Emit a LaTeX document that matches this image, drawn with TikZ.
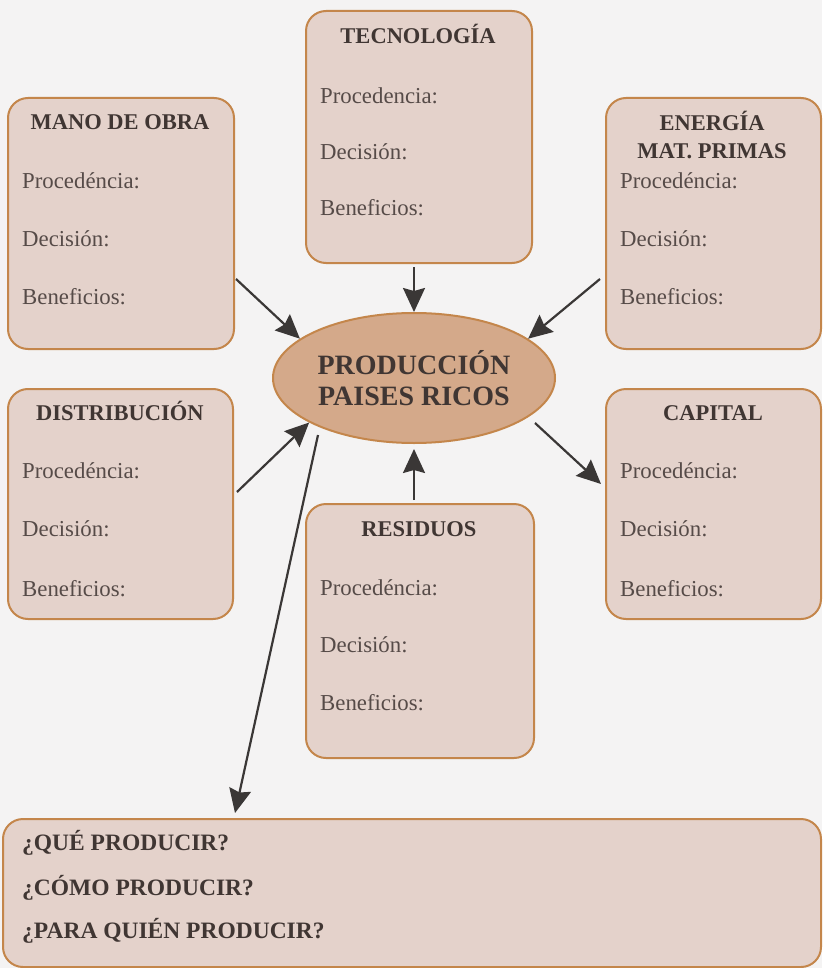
\documentclass[tikz,border=0pt]{standalone}
\usepackage{fontspec}
\setmainfont{Liberation Serif}
\usetikzlibrary{arrows.meta,shapes.geometric}
\definecolor{boxfill}{HTML}{E4D2CB}
\definecolor{boxline}{HTML}{C4864B}
\definecolor{ellfill}{HTML}{D4A98A}
\definecolor{headc}{HTML}{403633}
\definecolor{labc}{HTML}{564B48}
\definecolor{arrowc}{HTML}{3A3736}
\definecolor{pagec}{HTML}{F4F3F3}
\begin{document}
\begin{tikzpicture}[x=1pt,y=-1pt,
  box/.style={draw=boxline, fill=boxfill, line width=2pt, rounded corners=20pt, anchor=north west, inner sep=0pt},
  head/.style={font=\fontsize{22.5}{28}\selectfont\bfseries, text=headc, anchor=base, inner sep=0pt},
  qhead/.style={font=\fontsize{23.5}{28}\selectfont\bfseries, text=headc, anchor=base west, inner sep=0pt},
  lab/.style={font=\fontsize{22.8}{26}\selectfont, text=labc, anchor=base west, inner sep=0pt},
  arr/.style={draw=arrowc, line width=2.2pt, -{Stealth[length=24pt,width=22pt,inset=3pt]}}]
\fill[pagec] (0,0) rectangle (822,968);
\useasboundingbox (0,0) rectangle (822,968);

% boxes
\node[box, minimum width=226pt, minimum height=251pt] (mano) at (7,97) {};
\node[box, minimum width=226pt, minimum height=252pt] (tec) at (305,10) {};
\node[box, minimum width=215pt, minimum height=251pt] (ener) at (605,97) {};
\node[box, minimum width=225pt, minimum height=230pt] (dist) at (7,388) {};
\node[box, minimum width=215pt, minimum height=230pt] (cap) at (605,388) {};
\node[box, minimum width=228pt, minimum height=254pt] (res) at (305,503) {};
\node[box, minimum width=818pt, minimum height=148pt] (preg) at (2,818) {};

% ellipse
\node[ellipse, draw=boxline, fill=ellfill, line width=2pt, minimum width=282pt, minimum height=130pt, inner sep=0pt,
  align=center, font=\fontsize{28}{31}\selectfont\bfseries, text=headc] (prod) at (414,378) {PRODUCCIÓN\\PAISES RICOS};

% MANO DE OBRA
\node[head] (mano-t) at (120,130) {MANO DE OBRA};
\node[lab] (mano-p) at (22,189) {Procedéncia:};
\node[lab] (mano-d) at (22,247) {Decisión:};
\node[lab] (mano-b) at (22,304) {Beneficios:};

% TECNOLOGIA
\node[head] (tec-t) at (418,44) {TECNOLOGÍA};
\node[lab] (tec-p) at (320,104) {Procedencia:};
\node[lab] (tec-d) at (320,160) {Decisión:};
\node[lab] (tec-b) at (320,216) {Beneficios:};

% ENERGIA
\node[head] (ener-t1) at (712,131) {ENERGÍA};
\node[head] (ener-t2) at (712,159) {MAT. PRIMAS};
\node[lab] (ener-p) at (620,189) {Procedéncia:};
\node[lab] (ener-d) at (620,247) {Decisión:};
\node[lab] (ener-b) at (620,304) {Beneficios:};

% DISTRIBUCION
\node[head] (dist-t) at (120,420) {DISTRIBUCIÓN};
\node[lab] (dist-p) at (22,478) {Procedéncia:};
\node[lab] (dist-d) at (22,536) {Decisión:};
\node[lab] (dist-b) at (22,596) {Beneficios:};

% CAPITAL
\node[head] (cap-t) at (713,420) {CAPITAL};
\node[lab] (cap-p) at (620,478) {Procedéncia:};
\node[lab] (cap-d) at (620,536) {Decisión:};
\node[lab] (cap-b) at (620,596) {Beneficios:};

% RESIDUOS
\node[head] (res-t) at (419,536) {RESIDUOS};
\node[lab] (res-p) at (320,595) {Procedéncia:};
\node[lab] (res-d) at (320,652) {Decisión:};
\node[lab] (res-b) at (320,710) {Beneficios:};

% preguntas
\node[qhead] (q1) at (22,850) {¿QUÉ PRODUCIR?};
\node[qhead] (q2) at (22,895) {¿CÓMO PRODUCIR?};
\node[qhead] (q3) at (22,938) {¿PARA QUIÉN PRODUCIR?};

% arrow free ends
\coordinate (manoout) at (236,279);
\coordinate (enerout) at (600,279);
\coordinate (distout) at (237,492);
\coordinate (prodcapout) at (535,423);
\coordinate (capin) at (601,484);
\coordinate (prodqout) at (318,435);
\coordinate (pregin) at (235,813);

% arrows
\draw[arr] (manoout) -- (prod.161);
\draw[arr, shorten <=3pt] (tec.south -| prod.north) -- (prod.north);
\draw[arr] (enerout) -- (prod.19);
\draw[arr] (distout) -- (prod.203);
\draw[arr, shorten <=3pt, shorten >=5pt] (res.north -| prod.south) -- (prod.south);
\draw[arr] (prodcapout) -- (capin);
\draw[arr] (prodqout) -- (pregin);
\end{tikzpicture}
\end{document}
